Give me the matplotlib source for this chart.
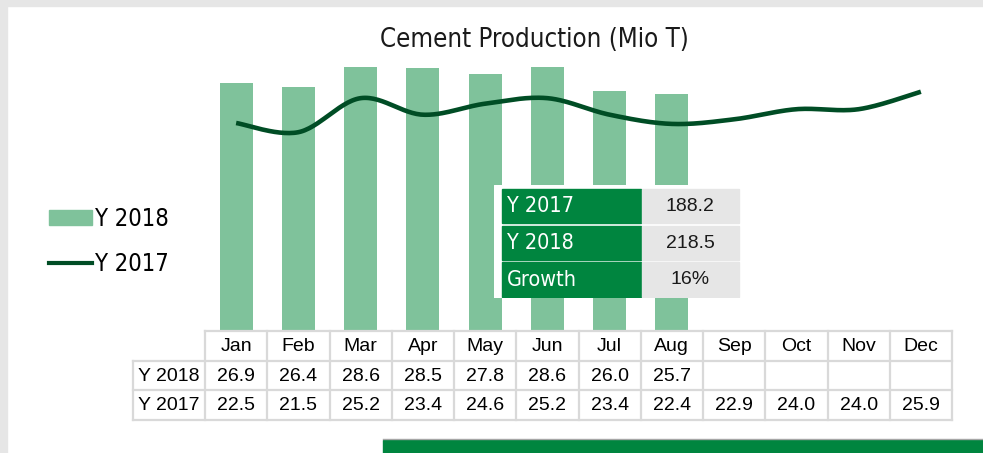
import numpy as np
import matplotlib
matplotlib.use("Agg")
import matplotlib.pyplot as plt
from matplotlib.patches import Rectangle
from matplotlib.lines import Line2D

# ---- data ----
months = ["Jan", "Feb", "Mar", "Apr", "May", "Jun", "Jul", "Aug", "Sep", "Oct", "Nov", "Dec"]
y2018 = [26.9, 26.4, 28.6, 28.5, 27.8, 28.6, 26.0, 25.7]
y2017 = [22.5, 21.5, 25.2, 23.4, 24.6, 25.2, 23.4, 22.4, 22.9, 24.0, 24.0, 25.9]
summary_labels = ["Y 2017", "Y 2018", "Growth"]
summary_values = ["188.2", "218.5", "16%"]

BAR = "#7FC29B"
LINE = "#004D25"
GREEN = "#00853F"
GRAY = "#E6E6E6"
GRID = "#D9D9D9"
NARROW = dict(family=["DejaVu Sans"], stretch="condensed")
SANS = ["Liberation Sans", "DejaVu Sans"]

W, H = 983, 453


def box(x0, y0, x1, y1):
    """pixel box (top-left origin) -> figure fraction rect"""
    return [x0 / W, 1 - y1 / H, (x1 - x0) / W, (y1 - y0) / H]


def smooth(xs, ys, n=30):
    """Excel-style smoothed line (uniform Catmull-Rom through the points)."""
    p = np.column_stack([xs, ys]).astype(float)
    p = np.vstack([p[0], p, p[-1]])
    out = []
    t = np.linspace(0, 1, n)[:, None]
    for i in range(1, len(p) - 2):
        p0, p1, p2, p3 = p[i - 1], p[i], p[i + 1], p[i + 2]
        c1 = p1 + (p2 - p0) / 6
        c2 = p2 - (p3 - p1) / 6
        seg = ((1 - t) ** 3) * p1 + 3 * ((1 - t) ** 2) * t * c1 + 3 * (1 - t) * t ** 2 * c2 + t ** 3 * p2
        out.append(seg if i == 1 else seg[1:])
    s = np.vstack(out)
    return s[:, 0], s[:, 1]


fig = plt.figure(figsize=(W / 100, H / 100), dpi=100)
fig.patch.set_facecolor("white")

# grey frame strips + green footer bar
fig.patches.append(Rectangle((0, 0), 7 / W, 1, transform=fig.transFigure, color=GRAY, zorder=0))
fig.patches.append(Rectangle((0, 1 - 6 / H), 1, 6 / H, transform=fig.transFigure, color=GRAY, zorder=0))
fb = box(383, 440, W, H)
fig.patches.append(Rectangle((fb[0], fb[1]), fb[2], fb[3], transform=fig.transFigure, color=GREEN, zorder=0))
fig.add_artist(Line2D([383 / W, 1], [1 - 439 / H] * 2, color="#A6A6A6", lw=1, transform=fig.transFigure))

# ---- main chart ----
ax = fig.add_axes(box(205, 54, 952, 330))
ax.set_xlim(-0.5, 11.5)
ax.set_ylim(0, 30)
ax.axis("off")
x = np.arange(len(months))
ax.bar(x[:len(y2018)], y2018, width=0.53, color=BAR, label="Y 2018", zorder=2)
sx, sy = smooth(x, y2017)
ax.plot(sx, sy, color=LINE, lw=3.3, solid_capstyle="butt", zorder=3)

fig.text(534 / W, 1 - 40 / H, "Cement Production (Mio T)", ha="center", va="center",
         fontsize=18.5, color="#1a1a1a", **NARROW)

handles = [Rectangle((0, 0), 1, 1, color=BAR), Line2D([], [], color=LINE, lw=3)]
fig.legend(handles, ["Y 2018", "Y 2017"], loc="upper left", bbox_to_anchor=(49 / W, 1 - 207 / H),
           frameon=False, prop=dict(size=17, **NARROW), handlelength=1.82, handleheight=0.6,
           handletextpad=0.12, labelspacing=0.9, borderpad=0, borderaxespad=0)

# ---- data table under the axis ----
tab = fig.add_axes(box(205, 331, 952, 420))
tab.set_xlim(-0.5, 11.5)
tab.set_ylim(3, 0)
tab.axis("off")
left = -0.5 - 72 / (747 / 12)
kw = dict(color=GRID, lw=1.6, clip_on=False, solid_capstyle="projecting")
tab.plot([-0.5, 11.5], [0, 0], **kw)
for r in (1, 2, 3):
    tab.plot([left, 11.5], [r, r], **kw)
for c in range(13):
    tab.plot([c - 0.5] * 2, [0, 3], **kw)
tab.plot([left, left], [1, 3], **kw)
tfont = dict(family=SANS, size=14, ha="center", va="center", color="black")
for i, m in enumerate(months):
    tab.text(i, 0.52, m, **tfont)
for i, v in enumerate(y2018):
    tab.text(i, 1.52, f"{v:.1f}", **tfont)
for i, v in enumerate(y2017):
    tab.text(i, 2.52, f"{v:.1f}", **tfont)
tab.text((left - 0.5) / 2, 1.52, "Y 2018", clip_on=False, **tfont)
tab.text((left - 0.5) / 2, 2.52, "Y 2017", clip_on=False, **tfont)

# ---- summary inset ----
ins = fig.add_axes(box(494, 185, 746, 298))
ins.set_xlim(494, 746)
ins.set_ylim(298, 185)
ins.axis("off")
ins.add_patch(Rectangle((494, 185), 252, 113, color="white"))
rows = [(189, 223), (226, 260), (262, 297)]
for (t, b), lab, val in zip(rows, summary_labels, summary_values):
    ins.add_patch(Rectangle((502, t), 139, b - t, color=GREEN))
    ins.add_patch(Rectangle((642, t), 97, b - t, color=GRAY))
    ins.text(507, (t + b) / 2 + 0.5, lab, ha="left", va="center", color="white", size=15.5, **NARROW)
    ins.text(690, (t + b) / 2 + 0.5, val, ha="center", va="center", color="#1a1a1a", family=SANS, size=14)

fig.savefig("out.png", dpi=100)
